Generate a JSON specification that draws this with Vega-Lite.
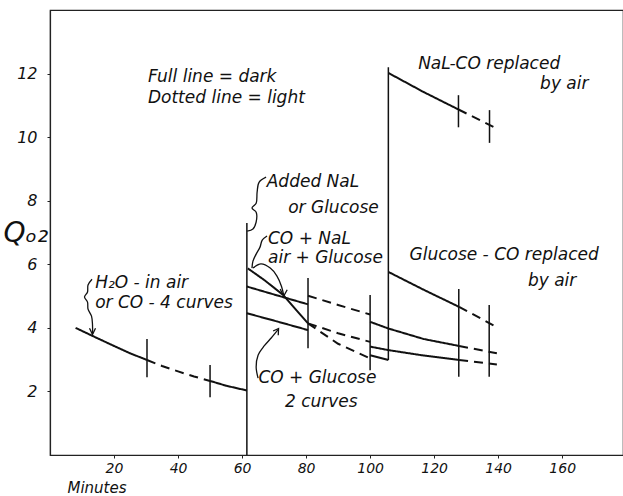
{
  "$schema": "https://vega.github.io/schema/vega-lite/v6.json",
  "width": 573,
  "height": 445,
  "autosize": {"type": "none"},
  "padding": {"left": 50, "top": 10, "right": 0, "bottom": 41},
  "background": "white",
  "config": {
    "view": {"stroke": "#222", "strokeWidth": 1.2},
    "font": "DejaVu Sans",
    "axis": {
      "grid": false,
      "domainColor": "#222",
      "domainWidth": 1.2,
      "tickColor": "#222",
      "tickSize": 4,
      "labelFontSize": 15,
      "labelFontStyle": "italic",
      "labelColor": "#111",
      "titleColor": "#111",
      "titleFontWeight": "normal",
      "titleFontStyle": "italic"
    }
  },
  "datasets": {
    "curves": [
      {"s": "h1", "m": 8, "q": 4.0, "k": "dark"},
      {"s": "h1", "m": 13, "q": 3.76, "k": "dark"},
      {"s": "h1", "m": 20, "q": 3.43, "k": "dark"},
      {"s": "h1", "m": 25, "q": 3.2, "k": "dark"},
      {"s": "h1", "m": 30.3, "q": 2.99, "k": "dark"},
      {"s": "h2", "m": 30.3, "q": 2.99, "k": "light"},
      {"s": "h2", "m": 35, "q": 2.8, "k": "light"},
      {"s": "h2", "m": 40, "q": 2.63, "k": "light"},
      {"s": "h2", "m": 45, "q": 2.47, "k": "light"},
      {"s": "h2", "m": 50, "q": 2.33, "k": "light"},
      {"s": "h3", "m": 50, "q": 2.33, "k": "dark"},
      {"s": "h3", "m": 55, "q": 2.18, "k": "dark"},
      {"s": "h3", "m": 61.5, "q": 2.03, "k": "dark"},
      {"s": "a1", "m": 61.5, "q": 5.3, "k": "dark"},
      {"s": "a1", "m": 71, "q": 5.02, "k": "dark"},
      {"s": "a1", "m": 80.6, "q": 4.74, "k": "dark"},
      {"s": "b1", "m": 61.8, "q": 5.87, "k": "dark"},
      {"s": "b1", "m": 67, "q": 5.5, "k": "dark"},
      {"s": "b1", "m": 72.9, "q": 5.03, "k": "dark"},
      {"s": "b1", "m": 77, "q": 4.55, "k": "dark"},
      {"s": "b1", "m": 80.6, "q": 4.14, "k": "dark"},
      {"s": "c1", "m": 61.5, "q": 4.46, "k": "dark"},
      {"s": "c1", "m": 71, "q": 4.2, "k": "dark"},
      {"s": "c1", "m": 80.6, "q": 3.93, "k": "dark"},
      {"s": "u2", "m": 80.6, "q": 5.01, "k": "light"},
      {"s": "u2", "m": 90, "q": 4.72, "k": "light"},
      {"s": "u2", "m": 100, "q": 4.42, "k": "light"},
      {"s": "m2", "m": 80.6, "q": 4.14, "k": "light"},
      {"s": "m2", "m": 90, "q": 3.83, "k": "light"},
      {"s": "m2", "m": 100, "q": 3.56, "k": "light"},
      {"s": "l2", "m": 80.6, "q": 4.14, "k": "light"},
      {"s": "l2", "m": 90, "q": 3.5, "k": "light"},
      {"s": "l2", "m": 100, "q": 3.04, "k": "light"},
      {"s": "t3", "m": 100, "q": 4.19, "k": "dark"},
      {"s": "t3", "m": 105.7, "q": 3.98, "k": "dark"},
      {"s": "t3", "m": 116.7, "q": 3.65, "k": "dark"},
      {"s": "t3", "m": 127.8, "q": 3.43, "k": "dark"},
      {"s": "t4", "m": 127.8, "q": 3.43, "k": "light"},
      {"s": "t4", "m": 139.6, "q": 3.2, "k": "light"},
      {"s": "i3", "m": 100, "q": 3.41, "k": "dark"},
      {"s": "i3", "m": 105.7, "q": 3.3, "k": "dark"},
      {"s": "i3", "m": 116.7, "q": 3.13, "k": "dark"},
      {"s": "i3", "m": 127.8, "q": 2.99, "k": "dark"},
      {"s": "i4", "m": 127.8, "q": 2.99, "k": "light"},
      {"s": "i4", "m": 139.6, "q": 2.85, "k": "light"},
      {"s": "o3", "m": 100, "q": 3.14, "k": "dark"},
      {"s": "o3", "m": 105.7, "q": 2.99, "k": "dark"},
      {"s": "g3", "m": 105.7, "q": 5.76, "k": "dark"},
      {"s": "g3", "m": 116.7, "q": 5.2, "k": "dark"},
      {"s": "g3", "m": 127.8, "q": 4.66, "k": "dark"},
      {"s": "g4", "m": 127.8, "q": 4.66, "k": "light"},
      {"s": "g4", "m": 140, "q": 4.0, "k": "light"},
      {"s": "n3", "m": 105.7, "q": 12.02, "k": "dark"},
      {"s": "n3", "m": 116.7, "q": 11.42, "k": "dark"},
      {"s": "n3", "m": 127.6, "q": 10.87, "k": "dark"},
      {"s": "n4", "m": 127.6, "q": 10.87, "k": "light"},
      {"s": "n4", "m": 139.6, "q": 10.27, "k": "light"}
    ],
    "rules": [
      {"m": 61.5, "lo": 0, "hi": 7.3},
      {"m": 105.7, "lo": 2.99, "hi": 12.2},
      {"m": 30.3, "lo": 2.45, "hi": 3.65},
      {"m": 50, "lo": 1.82, "hi": 2.83},
      {"m": 80.6, "lo": 3.36, "hi": 5.57},
      {"m": 100, "lo": 2.67, "hi": 5.03},
      {"m": 127.7, "lo": 2.46, "hi": 5.22},
      {"m": 137.2, "lo": 2.46, "hi": 4.72},
      {"m": 127.6, "lo": 10.31, "hi": 11.32},
      {"m": 137.3, "lo": 9.82, "hi": 10.85}
    ],
    "paths": [
      {"p": "h2o", "i": 0, "m": 13.13, "q": 5.53},
      {"p": "h2o", "i": 1, "m": 11.88, "q": 5.35},
      {"p": "h2o", "i": 2, "m": 11.72, "q": 5.13},
      {"p": "h2o", "i": 3, "m": 10.78, "q": 4.97},
      {"p": "h2o", "i": 4, "m": 11.72, "q": 4.81},
      {"p": "h2o", "i": 5, "m": 11.88, "q": 4.59},
      {"p": "h2o", "i": 6, "m": 12.97, "q": 4.37},
      {"p": "h2o", "i": 7, "m": 13.28, "q": 4.09},
      {"p": "h2o", "i": 8, "m": 13.28, "q": 3.81},
      {"p": "add", "i": 0, "m": 67.5, "q": 8.74},
      {"p": "add", "i": 1, "m": 65.3, "q": 8.58},
      {"p": "add", "i": 2, "m": 64.7, "q": 8.27},
      {"p": "add", "i": 3, "m": 64.4, "q": 7.92},
      {"p": "add", "i": 4, "m": 63.1, "q": 7.77},
      {"p": "add", "i": 5, "m": 64.4, "q": 7.64},
      {"p": "add", "i": 6, "m": 64.4, "q": 7.33},
      {"p": "add", "i": 7, "m": 63.4, "q": 7.11},
      {"p": "add", "i": 8, "m": 61.6, "q": 7.04},
      {"p": "conal", "i": 0, "m": 67.8, "q": 6.89},
      {"p": "conal", "i": 1, "m": 66.3, "q": 6.76},
      {"p": "conal", "i": 2, "m": 65.6, "q": 6.54},
      {"p": "conal", "i": 3, "m": 64.4, "q": 6.32},
      {"p": "conal", "i": 4, "m": 63.4, "q": 6.1},
      {"p": "conal", "i": 5, "m": 63.1, "q": 5.88},
      {"p": "arr", "i": 0, "m": 63.4, "q": 5.88},
      {"p": "arr", "i": 1, "m": 65.9, "q": 6.01},
      {"p": "arr", "i": 2, "m": 68.8, "q": 5.88},
      {"p": "arr", "i": 3, "m": 70.9, "q": 5.63},
      {"p": "arr", "i": 4, "m": 72.3, "q": 5.31},
      {"p": "arr", "i": 5, "m": 73.0, "q": 5.03},
      {"p": "coglu", "i": 0, "m": 65.0, "q": 2.42},
      {"p": "coglu", "i": 1, "m": 64.4, "q": 2.77},
      {"p": "coglu", "i": 2, "m": 65.0, "q": 3.14},
      {"p": "coglu", "i": 3, "m": 66.9, "q": 3.43},
      {"p": "coglu", "i": 4, "m": 69.1, "q": 3.68},
      {"p": "coglu", "i": 5, "m": 71.3, "q": 3.95}
    ],
    "heads": [
      {"p": "h1", "i": 0, "m": 12.34, "q": 3.99},
      {"p": "h1", "i": 1, "m": 13.28, "q": 3.79},
      {"p": "h1", "i": 2, "m": 14.22, "q": 3.99},
      {"p": "h2", "i": 0, "m": 71.9, "q": 5.22},
      {"p": "h2", "i": 1, "m": 73.0, "q": 5.0},
      {"p": "h2", "i": 2, "m": 74.1, "q": 5.2},
      {"p": "h3", "i": 0, "m": 69.7, "q": 3.9},
      {"p": "h3", "i": 1, "m": 71.4, "q": 3.98},
      {"p": "h3", "i": 2, "m": 71.3, "q": 3.77}
    ],
    "labels": [
      {"t": "Full line = dark", "m": 30.6, "q": 11.74, "g": "key"},
      {"t": "Dotted line = light", "m": 30.6, "q": 11.06, "g": "key"},
      {"t": "NaL-CO  replaced", "m": 115.0, "q": 12.14, "g": "note"},
      {"t": "by air", "m": 153.1, "q": 11.5, "g": "note"},
      {"t": "Added  NaL", "m": 67.7, "q": 8.44, "g": "note"},
      {"t": "or Glucose", "m": 74.4, "q": 7.61, "g": "note"},
      {"t": "CO + NaL", "m": 68.1, "q": 6.64, "g": "note"},
      {"t": "air + Glucose", "m": 68.1, "q": 6.03, "g": "note"},
      {"t": "Glucose - CO replaced", "m": 112.3, "q": 6.13, "g": "note"},
      {"t": "by air", "m": 149.3, "q": 5.31, "g": "note"},
      {"t": "H₂O - in air", "m": 14.1, "q": 5.24, "g": "note"},
      {"t": "or CO - 4 curves", "m": 14.1, "q": 4.61, "g": "note"},
      {"t": "CO + Glucose", "m": 65.1, "q": 2.25, "g": "note"},
      {"t": "2 curves", "m": 73.4, "q": 1.52, "g": "note"}
    ]
  },
  "encoding": {
    "x": {
      "field": "m",
      "type": "quantitative",
      "scale": {"domain": [0, 179], "nice": false, "zero": false},
      "axis": {
        "values": [20, 40, 60, 80, 100, 120, 140, 160],
        "tickSize": 3,
        "labelPadding": 3,
        "labelFontSize": 14,
        "title": "Minutes",
        "titleFontSize": 15,
        "titleAngle": 0,
        "titleAlign": "left",
        "titleBaseline": "alphabetic",
        "titleX": 17,
        "titleY": 37
      }
    },
    "y": {
      "field": "q",
      "type": "quantitative",
      "scale": {"domain": [0, 14], "nice": false, "zero": false},
      "axis": {
        "values": [2, 4, 6, 8, 10, 12],
        "tickSize": 3,
        "labelPadding": 10,
        "labelFontSize": 16,
        "title": "Qₒ₂",
        "titleFontSize": 28,
        "titleAngle": 0,
        "titleAlign": "left",
        "titleBaseline": "alphabetic",
        "titleX": -47,
        "titleY": 231
      }
    }
  },
  "layer": [
    {
      "data": {"name": "curves"},
      "mark": {"type": "line", "color": "#111", "strokeWidth": 2},
      "encoding": {
        "detail": {"field": "s"},
        "strokeDash": {
          "field": "k",
          "type": "nominal",
          "scale": {"domain": ["dark", "light"], "range": [[1, 0], [9, 6]]},
          "legend": null
        }
      }
    },
    {
      "data": {"name": "rules"},
      "mark": {"type": "rule", "color": "#111", "strokeWidth": 1.5},
      "encoding": {
        "y": {"field": "lo", "type": "quantitative"},
        "y2": {"field": "hi"}
      }
    },
    {
      "data": {"name": "paths"},
      "mark": {"type": "line", "color": "#111", "strokeWidth": 1.3, "interpolate": "catmull-rom"},
      "encoding": {
        "detail": {"field": "p"},
        "order": {"field": "i", "type": "quantitative"}
      }
    },
    {
      "data": {"name": "heads"},
      "mark": {"type": "line", "color": "#111", "strokeWidth": 1.3},
      "encoding": {
        "detail": {"field": "p"},
        "order": {"field": "i", "type": "quantitative"}
      }
    },
    {
      "data": {"name": "labels"},
      "transform": [{"filter": "datum.g === 'key'"}],
      "mark": {"type": "text", "align": "left", "baseline": "alphabetic", "fontSize": 17, "fontStyle": "italic", "color": "#111"},
      "encoding": {"text": {"field": "t"}}
    },
    {
      "data": {"name": "labels"},
      "transform": [{"filter": "datum.g === 'note'"}],
      "mark": {"type": "text", "align": "left", "baseline": "alphabetic", "fontSize": 17, "fontStyle": "italic", "color": "#111"},
      "encoding": {"text": {"field": "t"}}
    }
  ]
}
